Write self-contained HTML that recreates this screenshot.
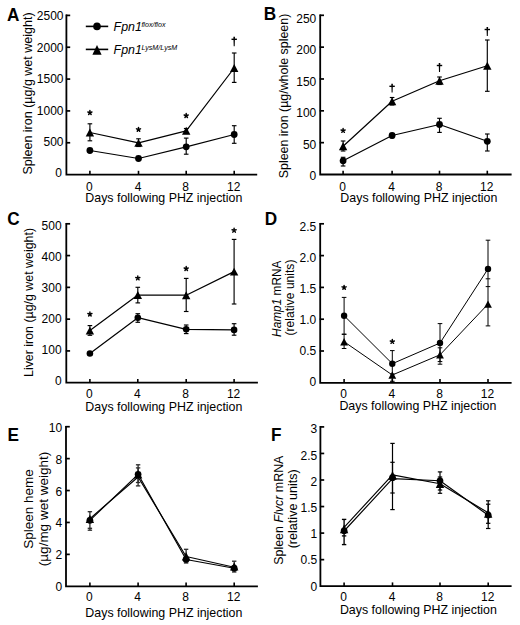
<!DOCTYPE html>
<html><head><meta charset="utf-8"><style>
html,body{margin:0;padding:0;background:#fff;width:520px;height:625px;overflow:hidden}
svg{display:block}
text{font-family:"Liberation Sans", sans-serif}
</style></head><body>
<svg width="520" height="625" viewBox="0 0 520 625" font-family='"Liberation Sans", sans-serif' fill="#000">
<rect width="520" height="625" fill="#fff"/>
<path d="M66.40 14.60V174.60H257.20" fill="none" stroke="#000" stroke-width="1.8" stroke-linecap="butt" stroke-linejoin="miter"/>
<text x="62.00" y="177.30" font-size="12" text-anchor="end" >0</text>
<line x1="65.90" y1="142.76" x2="70.20" y2="142.76" stroke="#000" stroke-width="1.7"/>
<text x="63.50" y="145.92" font-size="12" text-anchor="end" >500</text>
<line x1="65.90" y1="110.92" x2="70.20" y2="110.92" stroke="#000" stroke-width="1.7"/>
<text x="63.50" y="114.54" font-size="12" text-anchor="end" >1000</text>
<line x1="65.90" y1="79.08" x2="70.20" y2="79.08" stroke="#000" stroke-width="1.7"/>
<text x="63.50" y="83.16" font-size="12" text-anchor="end" >1500</text>
<line x1="65.90" y1="47.24" x2="70.20" y2="47.24" stroke="#000" stroke-width="1.7"/>
<text x="63.50" y="51.78" font-size="12" text-anchor="end" >2000</text>
<line x1="65.90" y1="15.40" x2="70.20" y2="15.40" stroke="#000" stroke-width="1.7"/>
<text x="63.50" y="20.40" font-size="12" text-anchor="end" >2500</text>
<line x1="89.90" y1="174.60" x2="89.90" y2="170.80" stroke="#000" stroke-width="1.6"/>
<text x="89.40" y="190.70" font-size="12" text-anchor="middle" >0</text>
<line x1="138.50" y1="174.60" x2="138.50" y2="170.80" stroke="#000" stroke-width="1.6"/>
<text x="138.00" y="190.70" font-size="12" text-anchor="middle" >4</text>
<line x1="186.20" y1="174.60" x2="186.20" y2="170.80" stroke="#000" stroke-width="1.6"/>
<text x="185.70" y="190.70" font-size="12" text-anchor="middle" >8</text>
<line x1="234.20" y1="174.60" x2="234.20" y2="170.80" stroke="#000" stroke-width="1.6"/>
<text x="233.70" y="190.70" font-size="12" text-anchor="middle" >12</text>
<text x="85.30" y="202.00" font-size="12.4" text-anchor="start" >Days following PHZ injection</text>
<path d="M320.20 14.50V174.50H511.60" fill="none" stroke="#000" stroke-width="1.8" stroke-linecap="butt" stroke-linejoin="miter"/>
<text x="316.30" y="180.30" font-size="12" text-anchor="end" >0</text>
<line x1="319.70" y1="142.66" x2="324.00" y2="142.66" stroke="#000" stroke-width="1.7"/>
<text x="316.30" y="148.79" font-size="12" text-anchor="end" >50</text>
<line x1="319.70" y1="110.82" x2="324.00" y2="110.82" stroke="#000" stroke-width="1.7"/>
<text x="316.30" y="117.28" font-size="12" text-anchor="end" >100</text>
<line x1="319.70" y1="78.98" x2="324.00" y2="78.98" stroke="#000" stroke-width="1.7"/>
<text x="316.30" y="85.77" font-size="12" text-anchor="end" >150</text>
<line x1="319.70" y1="47.14" x2="324.00" y2="47.14" stroke="#000" stroke-width="1.7"/>
<text x="316.30" y="54.26" font-size="12" text-anchor="end" >200</text>
<line x1="319.70" y1="15.30" x2="324.00" y2="15.30" stroke="#000" stroke-width="1.7"/>
<text x="316.30" y="22.75" font-size="12" text-anchor="end" >250</text>
<line x1="343.10" y1="174.50" x2="343.10" y2="170.70" stroke="#000" stroke-width="1.6"/>
<text x="342.60" y="190.60" font-size="12" text-anchor="middle" >0</text>
<line x1="392.10" y1="174.50" x2="392.10" y2="170.70" stroke="#000" stroke-width="1.6"/>
<text x="391.60" y="190.60" font-size="12" text-anchor="middle" >4</text>
<line x1="439.50" y1="174.50" x2="439.50" y2="170.70" stroke="#000" stroke-width="1.6"/>
<text x="439.00" y="190.60" font-size="12" text-anchor="middle" >8</text>
<line x1="487.30" y1="174.50" x2="487.30" y2="170.70" stroke="#000" stroke-width="1.6"/>
<text x="486.80" y="190.60" font-size="12" text-anchor="middle" >12</text>
<text x="340.35" y="201.90" font-size="12.4" text-anchor="start" >Days following PHZ injection</text>
<path d="M66.30 223.00V382.70H257.90" fill="none" stroke="#000" stroke-width="1.8" stroke-linecap="butt" stroke-linejoin="miter"/>
<text x="61.60" y="384.70" font-size="12" text-anchor="end" >0</text>
<line x1="65.80" y1="350.92" x2="70.10" y2="350.92" stroke="#000" stroke-width="1.7"/>
<text x="61.60" y="353.82" font-size="12" text-anchor="end" >100</text>
<line x1="65.80" y1="319.14" x2="70.10" y2="319.14" stroke="#000" stroke-width="1.7"/>
<text x="61.60" y="322.94" font-size="12" text-anchor="end" >200</text>
<line x1="65.80" y1="287.36" x2="70.10" y2="287.36" stroke="#000" stroke-width="1.7"/>
<text x="61.60" y="292.06" font-size="12" text-anchor="end" >300</text>
<line x1="65.80" y1="255.58" x2="70.10" y2="255.58" stroke="#000" stroke-width="1.7"/>
<text x="61.60" y="261.18" font-size="12" text-anchor="end" >400</text>
<line x1="65.80" y1="223.80" x2="70.10" y2="223.80" stroke="#000" stroke-width="1.7"/>
<text x="61.60" y="230.30" font-size="12" text-anchor="end" >500</text>
<line x1="89.90" y1="382.70" x2="89.90" y2="378.90" stroke="#000" stroke-width="1.6"/>
<text x="89.40" y="397.80" font-size="12" text-anchor="middle" >0</text>
<line x1="137.80" y1="382.70" x2="137.80" y2="378.90" stroke="#000" stroke-width="1.6"/>
<text x="137.30" y="397.80" font-size="12" text-anchor="middle" >4</text>
<line x1="186.20" y1="382.70" x2="186.20" y2="378.90" stroke="#000" stroke-width="1.6"/>
<text x="185.70" y="397.80" font-size="12" text-anchor="middle" >8</text>
<line x1="234.10" y1="382.70" x2="234.10" y2="378.90" stroke="#000" stroke-width="1.6"/>
<text x="233.60" y="397.80" font-size="12" text-anchor="middle" >12</text>
<text x="85.35" y="410.70" font-size="12.4" text-anchor="start" >Days following PHZ injection</text>
<path d="M320.20 223.00V382.80H511.60" fill="none" stroke="#000" stroke-width="1.8" stroke-linecap="butt" stroke-linejoin="miter"/>
<text x="316.30" y="386.20" font-size="12" text-anchor="end" >0</text>
<line x1="319.70" y1="351.00" x2="324.00" y2="351.00" stroke="#000" stroke-width="1.7"/>
<text x="316.30" y="355.09" font-size="12" text-anchor="end" >0.5</text>
<line x1="319.70" y1="319.20" x2="324.00" y2="319.20" stroke="#000" stroke-width="1.7"/>
<text x="316.30" y="323.98" font-size="12" text-anchor="end" >1.0</text>
<line x1="319.70" y1="287.40" x2="324.00" y2="287.40" stroke="#000" stroke-width="1.7"/>
<text x="316.30" y="292.87" font-size="12" text-anchor="end" >1.5</text>
<line x1="319.70" y1="255.60" x2="324.00" y2="255.60" stroke="#000" stroke-width="1.7"/>
<text x="316.30" y="261.76" font-size="12" text-anchor="end" >2.0</text>
<line x1="319.70" y1="223.80" x2="324.00" y2="223.80" stroke="#000" stroke-width="1.7"/>
<text x="316.30" y="230.65" font-size="12" text-anchor="end" >2.5</text>
<line x1="344.10" y1="382.80" x2="344.10" y2="379.00" stroke="#000" stroke-width="1.6"/>
<text x="343.60" y="397.90" font-size="12" text-anchor="middle" >0</text>
<line x1="392.30" y1="382.80" x2="392.30" y2="379.00" stroke="#000" stroke-width="1.6"/>
<text x="391.80" y="397.90" font-size="12" text-anchor="middle" >4</text>
<line x1="440.00" y1="382.80" x2="440.00" y2="379.00" stroke="#000" stroke-width="1.6"/>
<text x="439.50" y="397.90" font-size="12" text-anchor="middle" >8</text>
<line x1="488.00" y1="382.80" x2="488.00" y2="379.00" stroke="#000" stroke-width="1.6"/>
<text x="487.50" y="397.90" font-size="12" text-anchor="middle" >12</text>
<text x="339.40" y="410.40" font-size="12.4" text-anchor="start" >Days following PHZ injection</text>
<path d="M66.00 425.90V586.30H257.90" fill="none" stroke="#000" stroke-width="1.8" stroke-linecap="butt" stroke-linejoin="miter"/>
<text x="62.10" y="590.90" font-size="12" text-anchor="end" >0</text>
<line x1="65.50" y1="554.38" x2="69.80" y2="554.38" stroke="#000" stroke-width="1.7"/>
<text x="62.10" y="559.14" font-size="12" text-anchor="end" >2</text>
<line x1="65.50" y1="522.46" x2="69.80" y2="522.46" stroke="#000" stroke-width="1.7"/>
<text x="62.10" y="527.38" font-size="12" text-anchor="end" >4</text>
<line x1="65.50" y1="490.54" x2="69.80" y2="490.54" stroke="#000" stroke-width="1.7"/>
<text x="62.10" y="495.62" font-size="12" text-anchor="end" >6</text>
<line x1="65.50" y1="458.62" x2="69.80" y2="458.62" stroke="#000" stroke-width="1.7"/>
<text x="62.10" y="463.86" font-size="12" text-anchor="end" >8</text>
<line x1="65.50" y1="426.70" x2="69.80" y2="426.70" stroke="#000" stroke-width="1.7"/>
<text x="62.10" y="432.10" font-size="12" text-anchor="end" >10</text>
<line x1="89.90" y1="586.30" x2="89.90" y2="582.50" stroke="#000" stroke-width="1.6"/>
<text x="89.40" y="600.90" font-size="12" text-anchor="middle" >0</text>
<line x1="138.10" y1="586.30" x2="138.10" y2="582.50" stroke="#000" stroke-width="1.6"/>
<text x="137.60" y="600.90" font-size="12" text-anchor="middle" >4</text>
<line x1="186.10" y1="586.30" x2="186.10" y2="582.50" stroke="#000" stroke-width="1.6"/>
<text x="185.60" y="600.90" font-size="12" text-anchor="middle" >8</text>
<line x1="234.20" y1="586.30" x2="234.20" y2="582.50" stroke="#000" stroke-width="1.6"/>
<text x="233.70" y="600.90" font-size="12" text-anchor="middle" >12</text>
<text x="85.35" y="616.70" font-size="12.4" text-anchor="start" >Days following PHZ injection</text>
<path d="M320.40 426.10V586.20H511.60" fill="none" stroke="#000" stroke-width="1.8" stroke-linecap="butt" stroke-linejoin="miter"/>
<text x="317.20" y="590.50" font-size="12" text-anchor="end" >0</text>
<line x1="319.90" y1="559.65" x2="324.20" y2="559.65" stroke="#000" stroke-width="1.7"/>
<text x="317.20" y="564.30" font-size="12" text-anchor="end" >0.5</text>
<line x1="319.90" y1="533.10" x2="324.20" y2="533.10" stroke="#000" stroke-width="1.7"/>
<text x="317.20" y="538.10" font-size="12" text-anchor="end" >1</text>
<line x1="319.90" y1="506.55" x2="324.20" y2="506.55" stroke="#000" stroke-width="1.7"/>
<text x="317.20" y="511.90" font-size="12" text-anchor="end" >1.5</text>
<line x1="319.90" y1="480.00" x2="324.20" y2="480.00" stroke="#000" stroke-width="1.7"/>
<text x="317.20" y="485.70" font-size="12" text-anchor="end" >2</text>
<line x1="319.90" y1="453.45" x2="324.20" y2="453.45" stroke="#000" stroke-width="1.7"/>
<text x="317.20" y="459.50" font-size="12" text-anchor="end" >2.5</text>
<line x1="319.90" y1="426.90" x2="324.20" y2="426.90" stroke="#000" stroke-width="1.7"/>
<text x="317.20" y="433.30" font-size="12" text-anchor="end" >3</text>
<line x1="344.10" y1="586.20" x2="344.10" y2="582.40" stroke="#000" stroke-width="1.6"/>
<text x="343.60" y="600.80" font-size="12" text-anchor="middle" >0</text>
<line x1="392.50" y1="586.20" x2="392.50" y2="582.40" stroke="#000" stroke-width="1.6"/>
<text x="392.00" y="600.80" font-size="12" text-anchor="middle" >4</text>
<line x1="440.00" y1="586.20" x2="440.00" y2="582.40" stroke="#000" stroke-width="1.6"/>
<text x="439.50" y="600.80" font-size="12" text-anchor="middle" >8</text>
<line x1="488.20" y1="586.20" x2="488.20" y2="582.40" stroke="#000" stroke-width="1.6"/>
<text x="487.70" y="600.80" font-size="12" text-anchor="middle" >12</text>
<text x="339.90" y="614.20" font-size="12.4" text-anchor="start" >Days following PHZ injection</text>
<text transform="translate(6.9,20.8) scale(1,1.07)" font-size="17.2" font-weight="bold">A</text>
<text transform="translate(263.7,20.3) scale(1,1.07)" font-size="17.2" font-weight="bold">B</text>
<text transform="translate(7.2,224.7) scale(1,1.07)" font-size="17.2" font-weight="bold">C</text>
<text transform="translate(264.7,224.5) scale(1,1.07)" font-size="17.2" font-weight="bold">D</text>
<text transform="translate(7.6,441.0) scale(1,1.07)" font-size="17.2" font-weight="bold">E</text>
<text transform="translate(271.0,441.0) scale(1,1.07)" font-size="17.2" font-weight="bold">F</text>
<text transform="translate(32.40,93.50) rotate(-90)" x="0" y="0" font-size="12.5" text-anchor="middle">Spleen iron (µg/g wet weight)</text>
<text transform="translate(287.70,96.00) rotate(-90)" x="0" y="0" font-size="12.43" text-anchor="middle">Spleen iron (µg/whole spleen)</text>
<text transform="translate(32.50,302.50) rotate(-90)" x="0" y="0" font-size="12.4" text-anchor="middle">Liver iron (µg/g wet weight)</text>
<text transform="translate(280.60,298.75) rotate(-90)" x="0" y="0" font-size="11.85" text-anchor="middle"><tspan font-style="italic">Hamp1</tspan> mRNA</text>
<text transform="translate(293.80,297.50) rotate(-90)" x="0" y="0" font-size="12.08" text-anchor="middle">(relative units)</text>
<text transform="translate(33.00,509.00) rotate(-90)" x="0" y="0" font-size="13.5" text-anchor="middle">Spleen heme</text>
<text transform="translate(48.00,509.00) rotate(-90)" x="0" y="0" font-size="13.5" text-anchor="middle">(µg/mg wet weight)</text>
<text transform="translate(283.40,510.20) rotate(-90)" x="0" y="0" font-size="12.45" text-anchor="middle">Spleen <tspan font-style="italic">Flvcr</tspan> mRNA</text>
<text transform="translate(296.60,508.80) rotate(-90)" x="0" y="0" font-size="12.6" text-anchor="middle">(relative units)</text>
<line x1="85.80" y1="26.40" x2="108.20" y2="26.40" stroke="#000" stroke-width="1.6"/>
<circle cx="97.00" cy="26.40" r="3.8" fill="#000"/>
<line x1="85.80" y1="49.40" x2="108.20" y2="49.40" stroke="#000" stroke-width="1.6"/>
<path d="M97.00 45.10L101.60 54.70L92.40 54.70Z" fill="#000"/>
<text x="113.60" y="31.00" font-size="12.4" text-anchor="start" font-style="italic">Fpn1</text>
<text x="141.40" y="26.70" font-size="7.1" text-anchor="start" font-style="italic">flox/flox</text>
<text x="113.60" y="54.40" font-size="12.4" text-anchor="start" font-style="italic">Fpn1</text>
<text x="141.40" y="49.90" font-size="7.15" text-anchor="start" font-style="italic">LysM/LysM</text>
<polyline points="89.90,150.50 138.50,158.50 186.20,146.80 234.20,134.50" fill="none" stroke="#000" stroke-width="1.2" stroke-linejoin="round"/>
<polyline points="89.90,132.50 138.50,142.90 186.20,130.80 234.20,68.00" fill="none" stroke="#000" stroke-width="1.2" stroke-linejoin="round"/>
<line x1="186.20" y1="138.10" x2="186.20" y2="154.20" stroke="#000" stroke-width="1.15"/>
<line x1="183.90" y1="138.10" x2="188.50" y2="138.10" stroke="#000" stroke-width="1.15"/>
<line x1="183.90" y1="154.20" x2="188.50" y2="154.20" stroke="#000" stroke-width="1.15"/>
<line x1="234.20" y1="125.70" x2="234.20" y2="143.30" stroke="#000" stroke-width="1.15"/>
<line x1="231.90" y1="125.70" x2="236.50" y2="125.70" stroke="#000" stroke-width="1.15"/>
<line x1="231.90" y1="143.30" x2="236.50" y2="143.30" stroke="#000" stroke-width="1.15"/>
<line x1="89.90" y1="123.80" x2="89.90" y2="140.80" stroke="#000" stroke-width="1.15"/>
<line x1="87.60" y1="123.80" x2="92.20" y2="123.80" stroke="#000" stroke-width="1.15"/>
<line x1="87.60" y1="140.80" x2="92.20" y2="140.80" stroke="#000" stroke-width="1.15"/>
<line x1="138.50" y1="138.80" x2="138.50" y2="146.50" stroke="#000" stroke-width="1.15"/>
<line x1="136.20" y1="138.80" x2="140.80" y2="138.80" stroke="#000" stroke-width="1.15"/>
<line x1="136.20" y1="146.50" x2="140.80" y2="146.50" stroke="#000" stroke-width="1.15"/>
<line x1="186.20" y1="128.50" x2="186.20" y2="133.50" stroke="#000" stroke-width="1.15"/>
<line x1="183.90" y1="128.50" x2="188.50" y2="128.50" stroke="#000" stroke-width="1.15"/>
<line x1="183.90" y1="133.50" x2="188.50" y2="133.50" stroke="#000" stroke-width="1.15"/>
<line x1="234.20" y1="53.00" x2="234.20" y2="82.40" stroke="#000" stroke-width="1.15"/>
<line x1="231.90" y1="53.00" x2="236.50" y2="53.00" stroke="#000" stroke-width="1.15"/>
<line x1="231.90" y1="82.40" x2="236.50" y2="82.40" stroke="#000" stroke-width="1.15"/>
<circle cx="89.90" cy="150.50" r="3.4" fill="#000"/>
<circle cx="138.50" cy="158.50" r="3.4" fill="#000"/>
<circle cx="186.20" cy="146.80" r="3.4" fill="#000"/>
<circle cx="234.20" cy="134.50" r="3.4" fill="#000"/>
<path d="M89.90 128.55L94.10 136.45L85.70 136.45Z" fill="#000"/>
<path d="M138.50 138.95L142.70 146.85L134.30 146.85Z" fill="#000"/>
<path d="M186.20 126.85L190.40 134.75L182.00 134.75Z" fill="#000"/>
<path d="M234.20 64.05L238.40 71.95L230.00 71.95Z" fill="#000"/>
<path d="M89.90 112.72L89.90 110.56M89.90 112.72L91.94 112.05M89.90 112.72L91.16 114.45M89.90 112.72L88.64 114.45M89.90 112.72L87.86 112.05" stroke="#000" stroke-width="1.45" stroke-linecap="round" fill="none"/>
<path d="M138.50 129.52L138.50 127.37M138.50 129.52L140.54 128.85M138.50 129.52L139.76 131.25M138.50 129.52L137.24 131.25M138.50 129.52L136.46 128.85" stroke="#000" stroke-width="1.45" stroke-linecap="round" fill="none"/>
<path d="M186.20 115.72L186.20 113.56M186.20 115.72L188.24 115.05M186.20 115.72L187.46 117.45M186.20 115.72L184.94 117.45M186.20 115.72L184.16 115.05" stroke="#000" stroke-width="1.45" stroke-linecap="round" fill="none"/>
<path d="M233.40 36.80H235.00L234.70 46.30H233.70Z" fill="#000"/>
<line x1="231.50" y1="39.30" x2="236.90" y2="39.30" stroke="#000" stroke-width="1.4"/>
<polyline points="343.10,160.80 392.10,135.50 439.50,124.50 487.30,141.30" fill="none" stroke="#000" stroke-width="1.2" stroke-linejoin="round"/>
<polyline points="343.10,146.20 392.10,101.30 439.50,80.80 487.30,65.80" fill="none" stroke="#000" stroke-width="1.2" stroke-linejoin="round"/>
<line x1="343.10" y1="157.30" x2="343.10" y2="166.00" stroke="#000" stroke-width="1.15"/>
<line x1="340.80" y1="157.30" x2="345.40" y2="157.30" stroke="#000" stroke-width="1.15"/>
<line x1="340.80" y1="166.00" x2="345.40" y2="166.00" stroke="#000" stroke-width="1.15"/>
<line x1="392.10" y1="133.50" x2="392.10" y2="137.80" stroke="#000" stroke-width="1.15"/>
<line x1="389.80" y1="133.50" x2="394.40" y2="133.50" stroke="#000" stroke-width="1.15"/>
<line x1="389.80" y1="137.80" x2="394.40" y2="137.80" stroke="#000" stroke-width="1.15"/>
<line x1="439.50" y1="118.30" x2="439.50" y2="132.40" stroke="#000" stroke-width="1.15"/>
<line x1="437.20" y1="118.30" x2="441.80" y2="118.30" stroke="#000" stroke-width="1.15"/>
<line x1="437.20" y1="132.40" x2="441.80" y2="132.40" stroke="#000" stroke-width="1.15"/>
<line x1="487.30" y1="134.00" x2="487.30" y2="151.00" stroke="#000" stroke-width="1.15"/>
<line x1="485.00" y1="134.00" x2="489.60" y2="134.00" stroke="#000" stroke-width="1.15"/>
<line x1="485.00" y1="151.00" x2="489.60" y2="151.00" stroke="#000" stroke-width="1.15"/>
<line x1="343.10" y1="141.00" x2="343.10" y2="151.00" stroke="#000" stroke-width="1.15"/>
<line x1="340.80" y1="141.00" x2="345.40" y2="141.00" stroke="#000" stroke-width="1.15"/>
<line x1="340.80" y1="151.00" x2="345.40" y2="151.00" stroke="#000" stroke-width="1.15"/>
<line x1="392.10" y1="97.50" x2="392.10" y2="105.00" stroke="#000" stroke-width="1.15"/>
<line x1="389.80" y1="97.50" x2="394.40" y2="97.50" stroke="#000" stroke-width="1.15"/>
<line x1="389.80" y1="105.00" x2="394.40" y2="105.00" stroke="#000" stroke-width="1.15"/>
<line x1="439.50" y1="77.00" x2="439.50" y2="84.50" stroke="#000" stroke-width="1.15"/>
<line x1="437.20" y1="77.00" x2="441.80" y2="77.00" stroke="#000" stroke-width="1.15"/>
<line x1="437.20" y1="84.50" x2="441.80" y2="84.50" stroke="#000" stroke-width="1.15"/>
<line x1="487.30" y1="40.00" x2="487.30" y2="91.30" stroke="#000" stroke-width="1.15"/>
<line x1="485.00" y1="40.00" x2="489.60" y2="40.00" stroke="#000" stroke-width="1.15"/>
<line x1="485.00" y1="91.30" x2="489.60" y2="91.30" stroke="#000" stroke-width="1.15"/>
<circle cx="343.10" cy="160.80" r="3.4" fill="#000"/>
<circle cx="392.10" cy="135.50" r="3.4" fill="#000"/>
<circle cx="439.50" cy="124.50" r="3.4" fill="#000"/>
<circle cx="487.30" cy="141.30" r="3.4" fill="#000"/>
<path d="M343.10 142.25L347.30 150.15L338.90 150.15Z" fill="#000"/>
<path d="M392.10 97.35L396.30 105.25L387.90 105.25Z" fill="#000"/>
<path d="M439.50 76.85L443.70 84.75L435.30 84.75Z" fill="#000"/>
<path d="M487.30 61.85L491.50 69.75L483.10 69.75Z" fill="#000"/>
<path d="M343.10 130.62L343.10 128.47M343.10 130.62L345.14 129.95M343.10 130.62L344.36 132.35M343.10 130.62L341.84 132.35M343.10 130.62L341.06 129.95" stroke="#000" stroke-width="1.45" stroke-linecap="round" fill="none"/>
<path d="M391.30 83.80H392.90L392.60 92.50H391.60Z" fill="#000"/>
<line x1="389.40" y1="86.30" x2="394.80" y2="86.30" stroke="#000" stroke-width="1.4"/>
<path d="M438.70 63.00H440.30L440.00 72.00H439.00Z" fill="#000"/>
<line x1="436.80" y1="65.50" x2="442.20" y2="65.50" stroke="#000" stroke-width="1.4"/>
<path d="M486.50 27.00H488.10L487.80 36.00H486.80Z" fill="#000"/>
<line x1="484.60" y1="29.50" x2="490.00" y2="29.50" stroke="#000" stroke-width="1.4"/>
<polyline points="89.90,353.50 137.80,317.70 186.20,329.30 234.10,329.90" fill="none" stroke="#000" stroke-width="1.2" stroke-linejoin="round"/>
<polyline points="89.90,330.60 137.80,295.00 186.20,295.20 234.10,271.60" fill="none" stroke="#000" stroke-width="1.2" stroke-linejoin="round"/>
<line x1="137.80" y1="313.70" x2="137.80" y2="322.30" stroke="#000" stroke-width="1.15"/>
<line x1="135.50" y1="313.70" x2="140.10" y2="313.70" stroke="#000" stroke-width="1.15"/>
<line x1="135.50" y1="322.30" x2="140.10" y2="322.30" stroke="#000" stroke-width="1.15"/>
<line x1="186.20" y1="325.00" x2="186.20" y2="333.60" stroke="#000" stroke-width="1.15"/>
<line x1="183.90" y1="325.00" x2="188.50" y2="325.00" stroke="#000" stroke-width="1.15"/>
<line x1="183.90" y1="333.60" x2="188.50" y2="333.60" stroke="#000" stroke-width="1.15"/>
<line x1="234.10" y1="323.70" x2="234.10" y2="335.20" stroke="#000" stroke-width="1.15"/>
<line x1="231.80" y1="323.70" x2="236.40" y2="323.70" stroke="#000" stroke-width="1.15"/>
<line x1="231.80" y1="335.20" x2="236.40" y2="335.20" stroke="#000" stroke-width="1.15"/>
<line x1="89.90" y1="325.60" x2="89.90" y2="335.30" stroke="#000" stroke-width="1.15"/>
<line x1="87.60" y1="325.60" x2="92.20" y2="325.60" stroke="#000" stroke-width="1.15"/>
<line x1="87.60" y1="335.30" x2="92.20" y2="335.30" stroke="#000" stroke-width="1.15"/>
<line x1="137.80" y1="287.30" x2="137.80" y2="302.90" stroke="#000" stroke-width="1.15"/>
<line x1="135.50" y1="287.30" x2="140.10" y2="287.30" stroke="#000" stroke-width="1.15"/>
<line x1="135.50" y1="302.90" x2="140.10" y2="302.90" stroke="#000" stroke-width="1.15"/>
<line x1="186.20" y1="278.40" x2="186.20" y2="311.50" stroke="#000" stroke-width="1.15"/>
<line x1="183.90" y1="278.40" x2="188.50" y2="278.40" stroke="#000" stroke-width="1.15"/>
<line x1="183.90" y1="311.50" x2="188.50" y2="311.50" stroke="#000" stroke-width="1.15"/>
<line x1="234.10" y1="239.40" x2="234.10" y2="304.00" stroke="#000" stroke-width="1.15"/>
<line x1="231.80" y1="239.40" x2="236.40" y2="239.40" stroke="#000" stroke-width="1.15"/>
<line x1="231.80" y1="304.00" x2="236.40" y2="304.00" stroke="#000" stroke-width="1.15"/>
<circle cx="89.90" cy="353.50" r="3.3" fill="#000"/>
<circle cx="137.80" cy="317.70" r="3.3" fill="#000"/>
<circle cx="186.20" cy="329.30" r="3.3" fill="#000"/>
<circle cx="234.10" cy="329.90" r="3.3" fill="#000"/>
<path d="M89.90 326.65L94.10 334.55L85.70 334.55Z" fill="#000"/>
<path d="M137.80 291.05L142.00 298.95L133.60 298.95Z" fill="#000"/>
<path d="M186.20 291.25L190.40 299.15L182.00 299.15Z" fill="#000"/>
<path d="M234.10 267.65L238.30 275.55L229.90 275.55Z" fill="#000"/>
<path d="M89.90 314.21L89.90 312.06M89.90 314.21L91.94 313.55M89.90 314.21L91.16 315.95M89.90 314.21L88.64 315.95M89.90 314.21L87.86 313.55" stroke="#000" stroke-width="1.45" stroke-linecap="round" fill="none"/>
<path d="M137.80 278.11L137.80 275.96M137.80 278.11L139.84 277.45M137.80 278.11L139.06 279.85M137.80 278.11L136.54 279.85M137.80 278.11L135.76 277.45" stroke="#000" stroke-width="1.45" stroke-linecap="round" fill="none"/>
<path d="M186.20 268.71L186.20 266.56M186.20 268.71L188.24 268.05M186.20 268.71L187.46 270.45M186.20 268.71L184.94 270.45M186.20 268.71L184.16 268.05" stroke="#000" stroke-width="1.45" stroke-linecap="round" fill="none"/>
<path d="M234.10 230.41L234.10 228.26M234.10 230.41L236.14 229.75M234.10 230.41L235.36 232.15M234.10 230.41L232.84 232.15M234.10 230.41L232.06 229.75" stroke="#000" stroke-width="1.45" stroke-linecap="round" fill="none"/>
<polyline points="344.10,315.70 392.30,363.70 440.00,343.00 488.00,268.90" fill="none" stroke="#000" stroke-width="1.0" stroke-linejoin="round"/>
<polyline points="344.10,341.70 392.30,375.00 440.00,354.80 488.00,304.10" fill="none" stroke="#000" stroke-width="1.0" stroke-linejoin="round"/>
<line x1="344.10" y1="297.40" x2="344.10" y2="334.20" stroke="#000" stroke-width="1.0"/>
<line x1="341.80" y1="297.40" x2="346.40" y2="297.40" stroke="#000" stroke-width="1.0"/>
<line x1="341.80" y1="334.20" x2="346.40" y2="334.20" stroke="#000" stroke-width="1.0"/>
<line x1="392.30" y1="350.60" x2="392.30" y2="363.70" stroke="#000" stroke-width="1.0"/>
<line x1="390.00" y1="350.60" x2="394.60" y2="350.60" stroke="#000" stroke-width="1.0"/>
<line x1="390.00" y1="363.70" x2="394.60" y2="363.70" stroke="#000" stroke-width="1.0"/>
<line x1="392.30" y1="363.70" x2="392.30" y2="375.00" stroke="#000" stroke-width="1.0"/>
<line x1="440.00" y1="323.60" x2="440.00" y2="361.60" stroke="#000" stroke-width="1.0"/>
<line x1="437.70" y1="323.60" x2="442.30" y2="323.60" stroke="#000" stroke-width="1.0"/>
<line x1="437.70" y1="361.60" x2="442.30" y2="361.60" stroke="#000" stroke-width="1.0"/>
<line x1="488.00" y1="240.20" x2="488.00" y2="278.80" stroke="#000" stroke-width="1.0"/>
<line x1="485.70" y1="240.20" x2="490.30" y2="240.20" stroke="#000" stroke-width="1.0"/>
<line x1="485.70" y1="278.80" x2="490.30" y2="278.80" stroke="#000" stroke-width="1.0"/>
<line x1="344.10" y1="334.30" x2="344.10" y2="348.50" stroke="#000" stroke-width="1.0"/>
<line x1="341.80" y1="334.30" x2="346.40" y2="334.30" stroke="#000" stroke-width="1.0"/>
<line x1="341.80" y1="348.50" x2="346.40" y2="348.50" stroke="#000" stroke-width="1.0"/>
<line x1="392.30" y1="374.00" x2="392.30" y2="381.30" stroke="#000" stroke-width="1.0"/>
<line x1="390.00" y1="374.00" x2="394.60" y2="374.00" stroke="#000" stroke-width="1.0"/>
<line x1="390.00" y1="381.30" x2="394.60" y2="381.30" stroke="#000" stroke-width="1.0"/>
<line x1="440.00" y1="347.80" x2="440.00" y2="364.20" stroke="#000" stroke-width="1.0"/>
<line x1="437.70" y1="347.80" x2="442.30" y2="347.80" stroke="#000" stroke-width="1.0"/>
<line x1="437.70" y1="364.20" x2="442.30" y2="364.20" stroke="#000" stroke-width="1.0"/>
<line x1="488.00" y1="286.60" x2="488.00" y2="325.90" stroke="#000" stroke-width="1.0"/>
<line x1="485.70" y1="286.60" x2="490.30" y2="286.60" stroke="#000" stroke-width="1.0"/>
<line x1="485.70" y1="325.90" x2="490.30" y2="325.90" stroke="#000" stroke-width="1.0"/>
<line x1="488.00" y1="278.80" x2="488.00" y2="286.60" stroke="#000" stroke-width="1.0"/>
<circle cx="344.10" cy="315.70" r="3.2" fill="#000"/>
<circle cx="392.30" cy="363.70" r="3.2" fill="#000"/>
<circle cx="440.00" cy="343.00" r="3.2" fill="#000"/>
<circle cx="488.00" cy="268.90" r="3.2" fill="#000"/>
<path d="M344.10 338.00L348.00 345.40L340.20 345.40Z" fill="#000"/>
<path d="M392.30 371.30L396.20 378.70L388.40 378.70Z" fill="#000"/>
<path d="M440.00 351.10L443.90 358.50L436.10 358.50Z" fill="#000"/>
<path d="M488.00 300.40L491.90 307.80L484.10 307.80Z" fill="#000"/>
<path d="M344.10 287.51L344.10 285.37M344.10 287.51L346.14 286.85M344.10 287.51L345.36 289.25M344.10 287.51L342.84 289.25M344.10 287.51L342.06 286.85" stroke="#000" stroke-width="1.45" stroke-linecap="round" fill="none"/>
<path d="M392.30 341.61L392.30 339.46M392.30 341.61L394.34 340.95M392.30 341.61L393.56 343.35M392.30 341.61L391.04 343.35M392.30 341.61L390.26 340.95" stroke="#000" stroke-width="1.45" stroke-linecap="round" fill="none"/>
<line x1="89.90" y1="511.70" x2="89.90" y2="528.30" stroke="#2a2a2a" stroke-width="1.3"/>
<line x1="87.70" y1="511.70" x2="92.10" y2="511.70" stroke="#2a2a2a" stroke-width="1.3"/>
<line x1="87.70" y1="528.30" x2="92.10" y2="528.30" stroke="#2a2a2a" stroke-width="1.3"/>
<line x1="87.70" y1="530.20" x2="92.10" y2="530.20" stroke="#2a2a2a" stroke-width="1.3"/>
<line x1="89.90" y1="528.00" x2="89.90" y2="530.20" stroke="#2a2a2a" stroke-width="1.3"/>
<line x1="138.10" y1="464.80" x2="138.10" y2="482.50" stroke="#2a2a2a" stroke-width="1.3"/>
<line x1="135.90" y1="464.80" x2="140.30" y2="464.80" stroke="#2a2a2a" stroke-width="1.3"/>
<line x1="135.90" y1="482.50" x2="140.30" y2="482.50" stroke="#2a2a2a" stroke-width="1.3"/>
<line x1="138.10" y1="467.90" x2="138.10" y2="485.90" stroke="#2a2a2a" stroke-width="1.3"/>
<line x1="135.90" y1="467.90" x2="140.30" y2="467.90" stroke="#2a2a2a" stroke-width="1.3"/>
<line x1="135.90" y1="485.90" x2="140.30" y2="485.90" stroke="#2a2a2a" stroke-width="1.3"/>
<line x1="186.10" y1="549.30" x2="186.10" y2="563.00" stroke="#2a2a2a" stroke-width="1.3"/>
<line x1="183.90" y1="549.30" x2="188.30" y2="549.30" stroke="#2a2a2a" stroke-width="1.3"/>
<line x1="183.90" y1="563.00" x2="188.30" y2="563.00" stroke="#2a2a2a" stroke-width="1.3"/>
<line x1="234.20" y1="561.20" x2="234.20" y2="572.00" stroke="#2a2a2a" stroke-width="1.3"/>
<line x1="232.00" y1="561.20" x2="236.40" y2="561.20" stroke="#2a2a2a" stroke-width="1.3"/>
<line x1="232.00" y1="572.00" x2="236.40" y2="572.00" stroke="#2a2a2a" stroke-width="1.3"/>
<polyline points="89.90,520.30 138.10,474.30 186.10,559.50 234.20,568.20" fill="none" stroke="#000" stroke-width="1.15" stroke-linejoin="round"/>
<polyline points="89.90,518.60 138.10,477.00 186.10,556.50 234.20,567.30" fill="none" stroke="#000" stroke-width="1.15" stroke-linejoin="round"/>
<circle cx="89.90" cy="520.30" r="3.35" fill="#000"/>
<circle cx="138.10" cy="474.30" r="3.35" fill="#000"/>
<circle cx="186.10" cy="559.50" r="3.35" fill="#000"/>
<circle cx="234.20" cy="568.20" r="3.35" fill="#000"/>
<path d="M89.90 514.70L94.10 523.10L85.70 523.10Z" fill="#000"/>
<path d="M138.10 470.10L142.30 478.50L133.90 478.50Z" fill="#000"/>
<path d="M186.10 552.10L190.30 560.50L181.90 560.50Z" fill="#000"/>
<path d="M234.20 562.20L238.40 570.60L230.00 570.60Z" fill="#000"/>
<line x1="344.10" y1="519.40" x2="344.10" y2="544.60" stroke="#000" stroke-width="1.35"/>
<line x1="341.90" y1="519.40" x2="346.30" y2="519.40" stroke="#000" stroke-width="1.35"/>
<line x1="341.90" y1="544.60" x2="346.30" y2="544.60" stroke="#000" stroke-width="1.35"/>
<line x1="341.90" y1="535.90" x2="346.30" y2="535.90" stroke="#000" stroke-width="1.3"/>
<line x1="392.50" y1="443.40" x2="392.50" y2="493.00" stroke="#000" stroke-width="1.2"/>
<line x1="390.30" y1="443.40" x2="394.70" y2="443.40" stroke="#000" stroke-width="1.2"/>
<line x1="390.30" y1="493.00" x2="394.70" y2="493.00" stroke="#000" stroke-width="1.2"/>
<line x1="392.50" y1="462.30" x2="392.50" y2="509.60" stroke="#000" stroke-width="1.2"/>
<line x1="390.30" y1="462.30" x2="394.70" y2="462.30" stroke="#000" stroke-width="1.2"/>
<line x1="390.30" y1="509.60" x2="394.70" y2="509.60" stroke="#000" stroke-width="1.2"/>
<line x1="440.00" y1="471.90" x2="440.00" y2="490.00" stroke="#000" stroke-width="1.2"/>
<line x1="437.80" y1="471.90" x2="442.20" y2="471.90" stroke="#000" stroke-width="1.2"/>
<line x1="437.80" y1="490.00" x2="442.20" y2="490.00" stroke="#000" stroke-width="1.2"/>
<line x1="440.00" y1="477.00" x2="440.00" y2="493.30" stroke="#000" stroke-width="1.2"/>
<line x1="437.80" y1="477.00" x2="442.20" y2="477.00" stroke="#000" stroke-width="1.2"/>
<line x1="437.80" y1="493.30" x2="442.20" y2="493.30" stroke="#000" stroke-width="1.2"/>
<line x1="488.20" y1="500.80" x2="488.20" y2="523.30" stroke="#000" stroke-width="1.2"/>
<line x1="486.00" y1="500.80" x2="490.40" y2="500.80" stroke="#000" stroke-width="1.2"/>
<line x1="486.00" y1="523.30" x2="490.40" y2="523.30" stroke="#000" stroke-width="1.2"/>
<line x1="488.20" y1="504.20" x2="488.20" y2="528.50" stroke="#000" stroke-width="1.2"/>
<line x1="486.00" y1="504.20" x2="490.40" y2="504.20" stroke="#000" stroke-width="1.2"/>
<line x1="486.00" y1="528.50" x2="490.40" y2="528.50" stroke="#000" stroke-width="1.2"/>
<polyline points="344.10,531.00 392.50,478.60 440.00,480.80 488.20,515.20" fill="none" stroke="#000" stroke-width="1.15" stroke-linejoin="round"/>
<polyline points="344.10,527.30 392.50,474.90 440.00,483.80 488.20,512.80" fill="none" stroke="#000" stroke-width="1.15" stroke-linejoin="round"/>
<circle cx="344.10" cy="530.80" r="3.35" fill="#000"/>
<circle cx="392.50" cy="477.70" r="3.35" fill="#000"/>
<circle cx="440.00" cy="480.80" r="3.35" fill="#000"/>
<circle cx="488.20" cy="515.00" r="3.35" fill="#000"/>
<path d="M344.10 524.50L348.30 533.30L339.90 533.30Z" fill="#000"/>
<path d="M392.50 471.00L396.70 479.80L388.30 479.80Z" fill="#000"/>
<path d="M440.00 479.20L444.20 488.00L435.80 488.00Z" fill="#000"/>
<path d="M488.20 509.00L492.40 517.80L484.00 517.80Z" fill="#000"/>
</svg>
</body></html>
